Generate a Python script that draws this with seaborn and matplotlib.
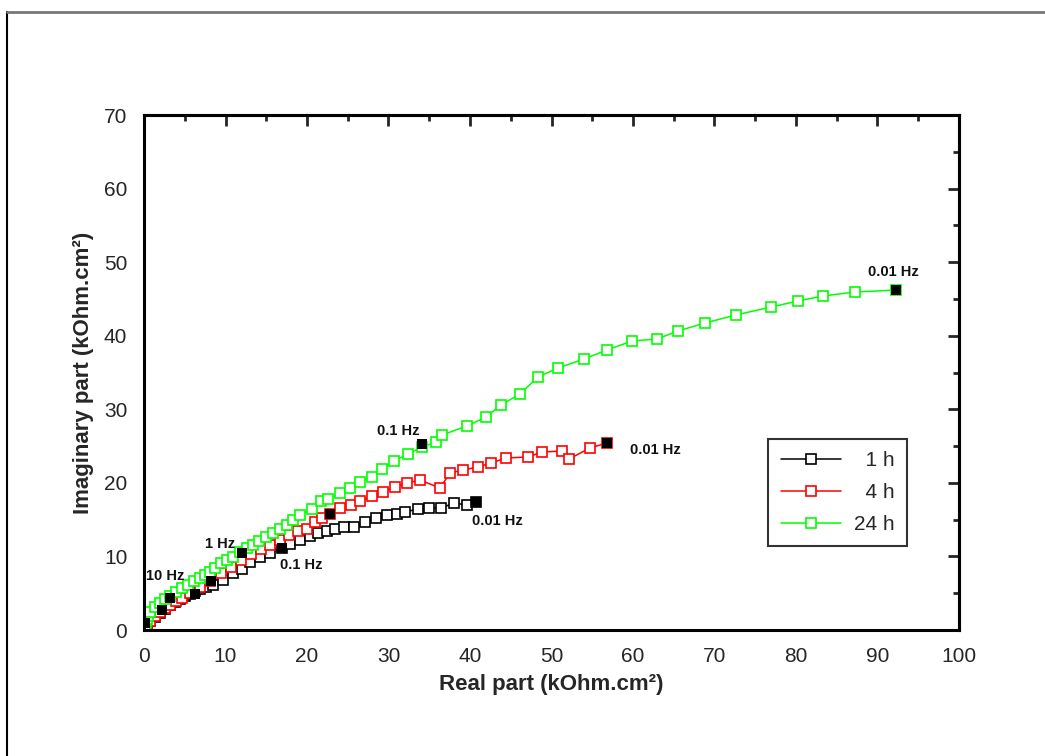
import matplotlib
matplotlib.use("Agg")
import matplotlib.pyplot as plt
from matplotlib.lines import Line2D
from matplotlib.ticker import MultipleLocator
import seaborn as sns
import pandas as pd

# ---------------- data (kOhm.cm2) ----------------
series_labels = ["1 h", "4 h", "24 h"]
series_colors = ["#000000", "#ff0000", "#00ff00"]

x_1h = [0, 0.12, 0.37, 0.74, 1.35, 1.96, 2.58, 3.19, 3.80, 4.42, 5.03, 5.64, 6.26, 6.87,
        7.61, 8.47, 9.69, 10.92, 12.02, 13.01, 14.23, 15.46, 16.93, 17.91, 19.14, 20.37,
        21.35, 22.45, 23.44, 24.54, 25.77, 27.12, 28.47, 29.82, 31.04, 32.02, 33.62,
        34.97, 36.44, 38.04, 39.63, 40.74]
y_1h = [0, 0.41, 0.82, 1.22, 1.77, 2.31, 2.85, 3.40, 3.81, 4.21, 4.62, 4.89, 5.30, 5.57,
        5.84, 6.12, 6.80, 7.75, 8.29, 9.24, 9.92, 10.47, 11.15, 11.69, 12.23, 12.78,
        13.18, 13.46, 13.73, 14.00, 14.00, 14.68, 15.22, 15.63, 15.77, 16.04, 16.45,
        16.58, 16.58, 17.26, 16.99, 17.40]

x_4h = [0, 0.12, 0.37, 0.74, 1.35, 1.96, 2.58, 3.19, 3.93, 4.66, 5.64, 6.87, 8.10, 9.45,
        10.67, 11.90, 13.13, 14.36, 15.46, 16.69, 17.79, 18.90, 20.00, 20.98, 21.84,
        22.82, 24.05, 25.40, 26.50, 27.98, 29.33, 30.80, 32.27, 33.87, 36.32, 37.55,
        39.14, 40.98, 42.58, 44.42, 47.12, 48.83, 51.29, 52.15, 54.72, 56.81]
y_4h = [0, 0.27, 0.68, 1.22, 1.90, 2.45, 2.99, 3.40, 3.94, 4.35, 5.03, 5.84, 6.66, 7.75,
        8.56, 9.51, 10.33, 11.01, 11.55, 12.23, 12.91, 13.46, 13.73, 14.68, 15.22,
        15.77, 16.58, 16.99, 17.53, 18.21, 18.76, 19.44, 19.98, 20.39, 19.30, 21.34,
        21.75, 22.16, 22.70, 23.38, 23.52, 24.19, 24.33, 23.24, 24.74, 25.42]

x_24h = [0, 0.12, 0.25, 0.37, 0.49, 0.74, 1.35, 1.96, 2.58, 3.19, 3.93, 4.66, 5.40, 6.13,
         6.87, 7.48, 8.10, 8.71, 9.45, 10.18, 10.92, 11.78, 12.64, 13.37, 14.11, 14.97,
         15.83, 16.69, 17.55, 18.28, 19.14, 20.61, 21.72, 22.58, 24.05, 25.28, 26.50,
         27.98, 29.20, 30.67, 32.39, 34.11, 35.83, 36.56, 39.63, 41.96, 43.80, 46.13,
         48.34, 50.80, 53.99, 56.81, 59.88, 62.94, 65.52, 68.83, 72.64, 76.93, 80.25,
         83.31, 87.24, 92.27]
y_24h = [0, 0.54, 1.09, 1.50, 1.90, 2.45, 3.13, 3.67, 4.21, 4.62, 5.17, 5.71, 6.12, 6.66,
         7.07, 7.48, 7.88, 8.43, 9.11, 9.51, 9.92, 10.60, 11.15, 11.55, 12.10, 12.64,
         13.18, 13.73, 14.27, 14.95, 15.63, 16.45, 17.53, 17.81, 18.62, 19.30, 20.12,
         20.80, 21.88, 22.97, 23.92, 24.87, 25.55, 26.51, 27.73, 28.95, 30.58, 32.08,
         34.39, 35.61, 36.84, 38.06, 39.28, 39.55, 40.64, 41.73, 42.82, 43.90, 44.72,
         45.40, 45.94, 46.21]

# frequency markers (filled black squares)
freq_x = [0.12, 6.26, 16.93, 40.74, 2.17, 8.22, 22.82, 56.81, 3.19, 12.02, 34.11, 92.27]
freq_y = [0.95, 4.89, 11.15, 17.40, 2.72, 6.66, 15.77, 25.42, 4.35, 10.47, 25.28, 46.21]

# annotations
ann_text = ["0.01 Hz", "0.01 Hz", "0.01 Hz", "0.1 Hz", "0.1 Hz", "1 Hz", "10 Hz"]
ann_x = [91.9, 62.7, 43.4, 31.2, 19.3, 9.3, 2.6]
ann_y = [48.7, 24.5, 14.8, 27.0, 8.8, 11.7, 7.3]

x_ticks = [0, 10, 20, 30, 40, 50, 60, 70, 80, 90, 100]
y_ticks = [0, 10, 20, 30, 40, 50, 60, 70]

# ---------------- plot ----------------
sns.set_style("white")
plt.rcParams["font.family"] = ["Liberation Sans", "DejaVu Sans"]

fig = plt.figure(figsize=(10.45, 7.56), dpi=100)
ax = fig.add_axes([144 / 1045, 1 - 630 / 756, 815 / 1045, 515 / 756])

all_x = [x_1h, x_4h, x_24h]
all_y = [y_1h, y_4h, y_24h]
for xs, ys, lab, col in zip(all_x, all_y, series_labels, series_colors):
    df = pd.DataFrame({"x": xs, "y": ys})
    sns.lineplot(data=df, x="x", y="y", sort=False, estimator=None, ax=ax,
                 color=col, linewidth=1.1, marker="s", markersize=6.5,
                 markerfacecolor="white", markeredgecolor=col,
                 markeredgewidth=1.2, label=lab)

sns.scatterplot(x=freq_x, y=freq_y, marker="s", color="black", s=60,
                edgecolor="black", linewidth=0, ax=ax, legend=False, zorder=5)

for t, xx, yy in zip(ann_text, ann_x, ann_y):
    ax.text(xx, yy, t, ha="center", va="center", fontsize=10.5,
            fontweight="bold", color="#111111")

ax.set_xlim(0, 100)
ax.set_ylim(0, 70)
ax.set_xticks(x_ticks)
ax.set_yticks(y_ticks)
ax.xaxis.set_minor_locator(MultipleLocator(5))
ax.yaxis.set_minor_locator(MultipleLocator(5))
ax.tick_params(which="major", direction="out", length=8, width=2, labelsize=15, pad=4,
               top=False, right=False)
ax.tick_params(which="minor", direction="out", length=4.5, width=2,
               top=False, right=False)
for sp in ax.spines.values():
    sp.set_linewidth(2.2)
    sp.set_color("black")

sec_x = ax.secondary_xaxis("top")
sec_x.set_xticks(x_ticks)
sec_x.xaxis.set_minor_locator(MultipleLocator(5))
sec_x.tick_params(which="major", direction="in", length=8, width=2, labeltop=False)
sec_x.tick_params(which="minor", direction="in", length=4.5, width=2)
sec_x.spines["top"].set_linewidth(2.2)
sec_y = ax.secondary_yaxis("right")
sec_y.set_yticks(y_ticks)
sec_y.yaxis.set_minor_locator(MultipleLocator(5))
sec_y.tick_params(which="major", direction="in", length=8, width=2, labelright=False)
sec_y.tick_params(which="minor", direction="in", length=4.5, width=2)
sec_y.spines["right"].set_linewidth(2.2)

ax.set_xlabel("Real part (kOhm.cm²)", fontsize=16, fontweight="bold", labelpad=6)
ax.set_ylabel("Imaginary part (kOhm.cm²)", fontsize=16, fontweight="bold", labelpad=7)

leg = ax.legend(loc="upper left", bbox_to_anchor=(0.753, 0.392), fontsize=15,
                frameon=True, fancybox=False, edgecolor="black", handlelength=2.9,
                handletextpad=0.6, borderpad=0.6, labelspacing=0.62,
                labels=["  1 h", "  4 h", "24 h"])
leg.get_frame().set_linewidth(1.5)

# figure border lines
fig.add_artist(Line2D([7 / 1045, 7 / 1045], [0, 1 - 12 / 756], transform=fig.transFigure,
                      color="black", linewidth=1.5))
fig.add_artist(Line2D([7 / 1045, 1], [1 - 12 / 756, 1 - 12 / 756], transform=fig.transFigure,
                      color="#777777", linewidth=2))

fig.savefig("out.png", dpi=100, facecolor="white")
